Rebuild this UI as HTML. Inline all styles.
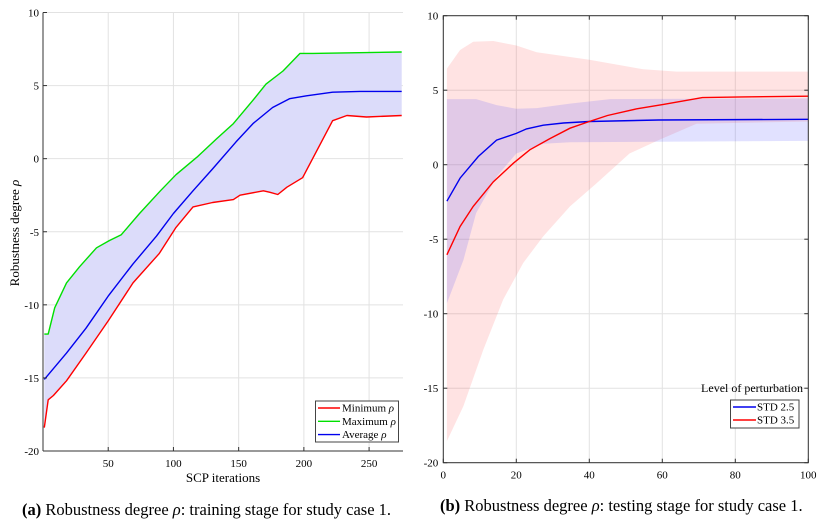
<!DOCTYPE html>
<html><head><meta charset="utf-8">
<style>
html,body{margin:0;padding:0;background:#fff;}
svg{display:block;font-family:"Liberation Serif",serif;}
</style></head>
<body>
<svg id="fig" width="828" height="524" viewBox="0 0 828 524">
<g id="left"></g>
<g id="right"></g>
<text x="22" y="515" font-size="16.5"><tspan font-weight="bold">(a)</tspan> Robustness degree <tspan font-style="italic">ρ</tspan>: training stage for study case 1.</text>
<text x="440" y="511" font-size="16.5"><tspan font-weight="bold">(b)</tspan> Robustness degree <tspan font-style="italic">ρ</tspan>: testing stage for study case 1.</text>
</svg>
<script>
// ---- Left chart data ----
const maxX = [1,4,9,18,28,41,51,60,74,90,102,118,133,146,161,171,184,197,207,275];
const maxV = [-12,-12,-10.2,-8.5,-7.4,-6.1,-5.6,-5.2,-3.75,-2.2,-1.1,0.1,1.35,2.4,4,5.1,6,7.2,7.2,7.3];
const avgX = [1,18,33,50,69,87,100,115,130,148,161,176,189,202,222,243,275];
const avgV = [-15.1,-13.3,-11.6,-9.4,-7.2,-5.3,-3.75,-2.2,-0.7,1.15,2.4,3.5,4.1,4.3,4.55,4.6,4.6];
const minX = [1,4,8,18,33,50,69,89,102,115,130,146,151,169,174,180,187,199,222,233,248,275];
const minV = [-18.4,-16.5,-16.2,-15.2,-13.3,-11.1,-8.5,-6.5,-4.7,-3.3,-3,-2.8,-2.5,-2.2,-2.3,-2.45,-1.95,-1.3,2.6,2.95,2.85,2.95];
const leftXTicks = [50,100,150,200,250];
const leftYTicks = [10,5,0,-5,-10,-15,-20];
// ---- Right chart data ----
const std25X = [1,4.6,9.6,14.6,20,22.8,27.4,32.9,40,59,100];
const std25V = [-2.45,-0.9,0.55,1.65,2.1,2.4,2.65,2.8,2.9,3.0,3.05];
const std35X = [1,4.6,8.2,13.7,19.2,23.7,29.2,34.7,40,45,53,60.3,71,82,100];
const std35V = [-6.05,-4.15,-2.8,-1.15,0.1,1.0,1.75,2.45,2.9,3.3,3.75,4.05,4.5,4.55,4.6];
const band25UpX = [1,9,14.6,20,25.6,34.7,45.7,100];
const band25UpV = [4.4,4.4,4.0,3.75,3.8,4.1,4.4,4.45];
const band25LoX = [1,5.5,9,14.6,20,27.4,34.7,100];
const band25LoV = [-9.3,-6.4,-3.25,-0.8,0.75,1.4,1.5,1.6];
const band35UpX = [1,4.6,8.2,13.7,20,25.6,40,54.8,64,100];
const band35UpV = [6.45,7.7,8.25,8.3,8.0,7.55,7.05,6.4,6.25,6.25];
const band35LoX = [1,5.5,11,16.4,21.9,27.4,34.7,42,51,59,69.4,100];
const band35LoV = [-18.55,-16.2,-12.4,-9.05,-6.6,-4.8,-2.8,-1.25,0.75,1.65,2.75,2.9];
const rightXTicks = [0,20,40,60,80,100];
const rightYTicks = [10,5,0,-5,-10,-15,-20];

const NS='http://www.w3.org/2000/svg';
function mk(parent,tag,attrs,text){const e=document.createElementNS(NS,tag);for(const k in attrs)e.setAttribute(k,attrs[k]);if(text!==undefined)e.textContent=text;parent.appendChild(e);return e;}
function scale(d0,d1,r0,r1){return v=>r0+(v-d0)/(d1-d0)*(r1-r0);}
function linePath(xs,vs,sx,sy){return xs.map((x,i)=>(i?'L':'M')+sx(x).toFixed(1)+','+sy(vs[i]).toFixed(1)).join('');}
function bandPath(ux,uv,lx,lv,sx,sy){let p=linePath(ux,uv,sx,sy);for(let i=lx.length-1;i>=0;i--)p+='L'+sx(lx[i]).toFixed(1)+','+sy(lv[i]).toFixed(1);return p+'Z';}

// ---- Left ----
(function(){
const g=document.getElementById('left');
const X0=43,X1=403,Y0=12.5,Y1=451;
const sx=scale(0,276,X0,X1), sy=scale(10,-20,Y0,Y1);
leftXTicks.forEach(t=>{const l=mk(g,'line',{x1:sx(t),x2:sx(t),y1:Y0,y2:Y1,stroke:'#e2e2e2','stroke-width':1});
});
leftYTicks.forEach(t=>{const l=mk(g,'line',{x1:X0,x2:X1,y1:sy(t),y2:sy(t),stroke:'#e2e2e2','stroke-width':1});
});
const b=mk(g,'path',{d:bandPath(maxX,maxV,minX,minV,sx,sy),fill:'#dcdcfa',stroke:'none'});

const series=[[minX,minV,'#ff0000','minimum-line'],[maxX,maxV,'#00e000','maximum-line'],[avgX,avgV,'#0000ee','average-line']];
series.forEach(s=>{const p=mk(g,'path',{d:linePath(s[0],s[1],sx,sy),fill:'none',stroke:s[2],'stroke-width':1.4,'stroke-linejoin':'round'});
});
mk(g,'line',{x1:X0,x2:X0,y1:Y0,y2:Y1,stroke:'#333','stroke-width':1});
mk(g,'line',{x1:X0,x2:X1,y1:Y1,y2:Y1,stroke:'#333','stroke-width':1});
leftXTicks.forEach(t=>{mk(g,'line',{x1:sx(t),x2:sx(t),y1:Y1,y2:Y1-4,stroke:'#333'});
const tx=mk(g,'text',{x:sx(t),y:Y1+16,'font-size':11,'text-anchor':'middle'},t);
});
leftYTicks.forEach(t=>{mk(g,'line',{x1:X0,x2:X0+4,y1:sy(t),y2:sy(t),stroke:'#333'});
const tx=mk(g,'text',{x:X0-4,y:sy(t)+4,'font-size':11,'text-anchor':'end'},t);
});
const xl=mk(g,'text',{x:223,y:482,'font-size':13,'text-anchor':'middle'},'SCP iterations');

const yl=mk(g,'text',{x:0,y:0,'font-size':13,'text-anchor':'middle',transform:'translate(19,233) rotate(-90)'},'Robustness degree ');
mk(yl,'tspan',{'font-style':'italic'},'ρ');

const lg=mk(g,'g',{});

mk(lg,'rect',{x:315.5,y:401,width:83,height:41,fill:'#fff',stroke:'#444'});
[['Minimum ','#ff0000'],['Maximum ','#00e000'],['Average ','#0000ee']].forEach((e,i)=>{
const y=408+i*13.3;
const it=mk(lg,'g',{});

mk(it,'line',{x1:318,x2:340,y1:y,y2:y,stroke:e[1],'stroke-width':1.4});
const t=mk(it,'text',{x:342,y:y+3.5,'font-size':11},e[0]);mk(t,'tspan',{'font-style':'italic'},'ρ');});
})();

// ---- Right ----
(function(){
const g=document.getElementById('right');
const X0=443.3,X1=808.3,Y0=15.7,Y1=462.7;
const sx=scale(0,100,X0,X1), sy=scale(10,-20,Y0,Y1);
rightXTicks.forEach(t=>{const l=mk(g,'line',{x1:sx(t),x2:sx(t),y1:Y0,y2:Y1,stroke:'#e2e2e2'});
});
rightYTicks.forEach(t=>{const l=mk(g,'line',{x1:X0,x2:X1,y1:sy(t),y2:sy(t),stroke:'#e2e2e2'});
});
const b35=mk(g,'path',{d:bandPath(band35UpX,band35UpV,band35LoX,band35LoV,sx,sy),fill:'rgba(255,80,80,0.16)',stroke:'none'});

const b25=mk(g,'path',{d:bandPath(band25UpX,band25UpV,band25LoX,band25LoV,sx,sy),fill:'rgba(70,70,255,0.16)',stroke:'none'});

const l25=mk(g,'path',{d:linePath(std25X,std25V,sx,sy),fill:'none',stroke:'#0000ee','stroke-width':1.4});

const l35=mk(g,'path',{d:linePath(std35X,std35V,sx,sy),fill:'none',stroke:'#ff0000','stroke-width':1.4});

mk(g,'rect',{x:X0,y:Y0,width:X1-X0,height:Y1-Y0,fill:'none',stroke:'#333'});
rightXTicks.forEach(t=>{mk(g,'line',{x1:sx(t),x2:sx(t),y1:Y1,y2:Y1-4,stroke:'#333'});mk(g,'line',{x1:sx(t),x2:sx(t),y1:Y0,y2:Y0+4,stroke:'#333'});
const tx=mk(g,'text',{x:sx(t),y:Y1+16,'font-size':11,'text-anchor':'middle'},t);
});
rightYTicks.forEach(t=>{mk(g,'line',{x1:X0,x2:X0+4,y1:sy(t),y2:sy(t),stroke:'#333'});mk(g,'line',{x1:X1,x2:X1-4,y1:sy(t),y2:sy(t),stroke:'#333'});
const tx=mk(g,'text',{x:X0-5,y:sy(t)+4,'font-size':11,'text-anchor':'end'},t);
});
const lg=mk(g,'g',{});

mk(lg,'text',{x:803,y:392,'font-size':12,'text-anchor':'end'},'Level of perturbation');
mk(lg,'rect',{x:730.5,y:400,width:68.5,height:28,fill:'#fff',stroke:'#444'});
[['STD 2.5','#0000ee'],['STD 3.5','#ff0000']].forEach((e,i)=>{
const y=407+i*13;
const it=mk(lg,'g',{});

mk(it,'line',{x1:733,x2:756,y1:y,y2:y,stroke:e[1],'stroke-width':1.4});
mk(it,'text',{x:757,y:y+3.5,'font-size':11},e[0]);});
})();
</script>
</body></html>
